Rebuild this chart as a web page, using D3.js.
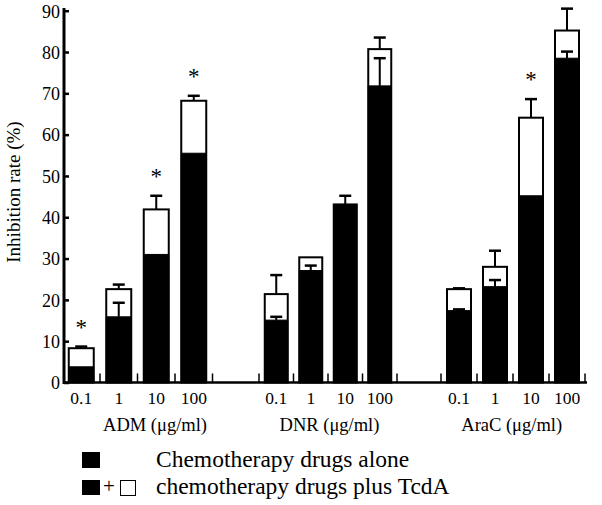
<!DOCTYPE html>
<html><head><meta charset="utf-8">
<script src="https://cdn.jsdelivr.net/npm/d3@7"></script>
<style>body{margin:0;background:#fff}svg{display:block}</style>
</head><body><svg id="c" width="602" height="505"></svg>
<script>
const groups = ["ADM (μg/ml)", "DNR (μg/ml)", "AraC (μg/ml)"];
const concentrations = ["0.1", "1", "10", "100"];
// Chemotherapy drugs alone (black)
const aloneValues = [
  [3.8, 15.9, 31.0, 55.5],
  [15.1, 27.1, 43.1, 71.8],
  [17.4, 23.2, 45.2, 78.5]
];
const aloneErrors = [
  [0, 3.4, 0, 0],
  [0.8, 1.2, 0, 6.7],
  [0.3, 1.6, 0, 1.6]
];
// Chemotherapy drugs plus TcdA (total bar)
const plusValues = [
  [8.3, 22.6, 41.9, 68.2],
  [21.4, 30.3, 43.1, 80.7],
  [22.6, 28.0, 64.1, 85.2]
];
const plusErrors = [
  [0.4, 1.1, 3.3, 1.2],
  [4.6, 0, 2.1, 2.8],
  [0.2, 3.9, 4.5, 5.3]
];
const significant = [
  [true, false, true, true],
  [false, false, false, false],
  [false, false, true, false]
];
const yTicks = [0, 10, 20, 30, 40, 50, 60, 70, 80, 90];
const legendLabels = ["Chemotherapy drugs alone", "chemotherapy drugs plus TcdA"];

const FONT = "'Liberation Serif', 'Times New Roman', Times, serif";
const svg = d3.select("#c").style("font-family", FONT);
const y = d3.scaleLinear().domain([0, 90]).range([382.5, 10.7]);
const groupRanges = [[62.5, 212.5], [259, 397], [441, 585]];
const labelShift = [17.5, 1.5, -1.3];
const xInner = groupRanges.map(r => d3.scaleBand().domain(concentrations).range(r).paddingInner(1/3).paddingOuter(1/6));

function txt(sel) { return sel.style("font-family", FONT).attr("fill", "#000"); }

// Y axis
const yAxis = d3.axisLeft(y).tickValues(yTicks).tickSize(-5).tickPadding(8);
const ya = svg.append("g").attr("transform", "translate(64,0)").call(yAxis).attr("font-family", null);
ya.select(".domain").remove();
ya.selectAll(".tick line").attr("stroke", "#000").attr("stroke-width", 2.5);
txt(ya.selectAll(".tick text")).attr("font-size", 18).attr("dy", "0.35em").attr("x", -4);
svg.append("line").attr("x1", 64).attr("x2", 64).attr("y1", 8).attr("y2", 384).attr("stroke", "#000").attr("stroke-width", 3);

// X axis baseline
svg.append("line").attr("x1", 63).attr("x2", 587).attr("y1", y(0)).attr("y2", y(0)).attr("stroke", "#000").attr("stroke-width", 2.5);

groups.forEach((g, gi) => {
  const xs = xInner[gi];
  const r = groupRanges[gi];
  const bounds = d3.range(5).map(i => r[0] + i * (r[1] - r[0]) / 4).filter((b, i) => !(gi === 0 && i === 0));
  svg.append("g").selectAll("line").data(bounds).join("line")
    .attr("x1", d => d).attr("x2", d => d).attr("y1", y(0)).attr("y2", y(0) - 9)
    .attr("stroke", "#000").attr("stroke-width", 1.5);

  const gg = svg.append("g");
  concentrations.forEach((c, ci) => {
    const x0 = xs(c), w = xs.bandwidth(), cx = x0 + w / 2;
    const pv = plusValues[gi][ci], pe = plusErrors[gi][ci];
    const av = aloneValues[gi][ci], ae = aloneErrors[gi][ci];
    if (pe > 0) {
      gg.append("line").attr("x1", cx).attr("x2", cx).attr("y1", y(pv)).attr("y2", y(pv + pe)).attr("stroke", "#000").attr("stroke-width", 2);
      gg.append("line").attr("x1", cx - 6).attr("x2", cx + 6).attr("y1", y(pv + pe)).attr("y2", y(pv + pe)).attr("stroke", "#000").attr("stroke-width", 2.5);
    }
    gg.append("rect").attr("x", x0).attr("y", y(pv)).attr("width", w).attr("height", y(0) - y(pv))
      .attr("fill", "#fff").attr("stroke", "#000").attr("stroke-width", 2);
    gg.append("rect").attr("x", x0).attr("y", y(av)).attr("width", w).attr("height", y(0) - y(av))
      .attr("fill", "#000").attr("stroke", "#000").attr("stroke-width", 1);
    if (ae > 0) {
      gg.append("line").attr("x1", cx).attr("x2", cx).attr("y1", y(av)).attr("y2", y(av + ae)).attr("stroke", "#000").attr("stroke-width", 2);
      gg.append("line").attr("x1", cx - 6).attr("x2", cx + 6).attr("y1", y(av + ae)).attr("y2", y(av + ae)).attr("stroke", "#000").attr("stroke-width", 2.5);
    }
    if (significant[gi][ci]) {
      txt(gg.append("text")).attr("x", cx).attr("y", y(pv + pe) - 12).attr("text-anchor", "middle")
        .attr("font-size", 23).text("*");
    }
    txt(gg.append("text")).attr("x", cx).attr("y", 404).attr("text-anchor", "middle").attr("font-size", 17.5).text(c);
  });
  txt(svg.append("text")).attr("x", (r[0] + r[1]) / 2 + labelShift[gi]).attr("y", 431).attr("text-anchor", "middle")
    .attr("font-size", 18.5).text(g);
});

// Y title
txt(svg.append("text")).attr("transform", "translate(20,192) rotate(-90)").attr("text-anchor", "middle")
  .attr("font-size", 19).text("Inhibition rate (%)");

// Legend
svg.append("rect").attr("x", 82).attr("y", 452).attr("width", 18).attr("height", 16).attr("fill", "#000");
svg.append("rect").attr("x", 82).attr("y", 480).attr("width", 18).attr("height", 15).attr("fill", "#000");
txt(svg.append("text")).attr("x", 109).attr("y", 493).attr("text-anchor", "middle").attr("font-size", 21).text("+");
svg.append("rect").attr("x", 120.5).attr("y", 480.5).attr("width", 15).attr("height", 15).attr("fill", "#fff").attr("stroke", "#000").attr("stroke-width", 1);
txt(svg.append("text")).attr("x", 156).attr("y", 467).attr("font-size", 23.5).text(legendLabels[0]);
txt(svg.append("text")).attr("x", 156).attr("y", 493.5).attr("font-size", 23.5).text(legendLabels[1]);
</script></body></html>
